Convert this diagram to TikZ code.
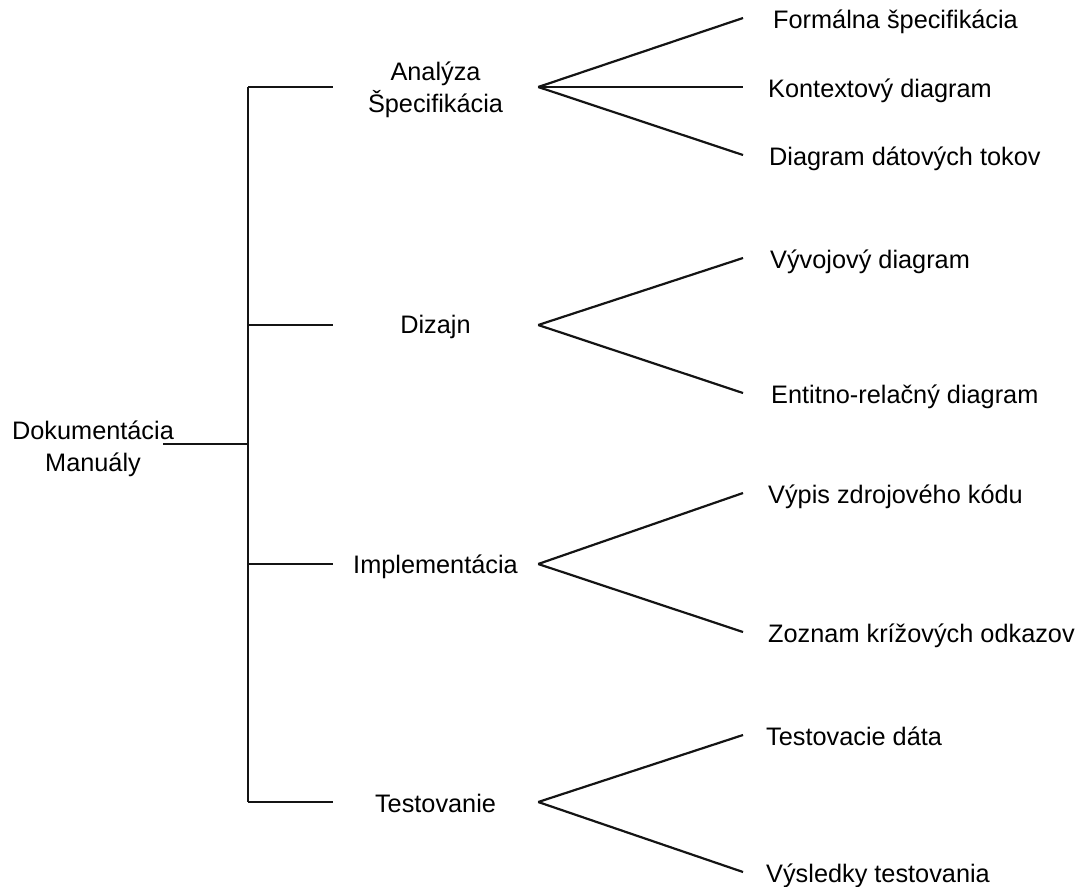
\documentclass[tikz,border=0pt]{standalone}
\usepackage{fontspec}
\setmainfont{Liberation Sans}
\begin{document}
\begin{tikzpicture}[x=1pt,y=-1pt,
  every node/.style={font=\fontsize{25.3}{32}\selectfont, inner ysep=0pt},
  conn/.style={draw=black!92, line width=2.2pt},
  topic/.style={minimum width=205pt, inner xsep=0pt, align=center},
  leaf/.style={anchor=west, inner xsep=#1, text height=26.5pt, text depth=5.5pt},
  leaf/.default=25pt]
\useasboundingbox (0,0) rectangle (1086,886);

% rows of the tree: spine joints
\coordinate (rowRoot) at (248,444);
\coordinate (rowA) at (248,87);
\coordinate (rowD) at (248,325);
\coordinate (rowI) at (248,564);
\coordinate (rowT) at (248,802);

% root of the tree
\node[align=center, inner xsep=0pt] (root) at (93,449)
  {\makebox[140pt]{Dokumentácia}\\\makebox[140pt]{Manuály}};

% phases
\node[topic] (ana)  at (435.5,90)  {Analýza\\Špecifikácia};
\node[topic] (diz)  at (435.5,327) {Dizajn};
\node[topic] (impl) at (435.5,567) {Implementácia};
\node[topic] (test) at (435.5,803) {Testovanie};

% documents
\node[leaf=30pt] (f1) at (743,18)  {Formálna špecifikácia};
\node[leaf]      (f2) at (743,87)  {Kontextový diagram};
\node[leaf=26pt] (f3) at (743,155) {Diagram dátových tokov};
\node[leaf=27pt] (d1) at (743,258) {Vývojový diagram};
\node[leaf=28pt] (d2) at (743,393) {Entitno-relačný diagram};
\node[leaf]      (i1) at (743,493) {Výpis zdrojového kódu};
\node[leaf]      (i2) at (743,632) {Zoznam krížových odkazov};
\node[leaf=23pt] (t1) at (743,735) {Testovacie dáta};
\node[leaf=23pt] (t2) at (743,872) {Výsledky testovania};

% connectors
\draw[conn] (rowA) -- (rowT);
\draw[conn] (root.east |- rowRoot) -- (rowRoot);
\foreach \p/\r in {ana/rowA,diz/rowD,impl/rowI,test/rowT}
  \draw[conn] (\r) -- (\r -| \p.west);
\foreach \p/\r/\c in {ana/rowA/f1,ana/rowA/f2,ana/rowA/f3,diz/rowD/d1,diz/rowD/d2,
                      impl/rowI/i1,impl/rowI/i2,test/rowT/t1,test/rowT/t2}
  \draw[conn] (\r -| \p.east) -- (\c.west);
\end{tikzpicture}
\end{document}
